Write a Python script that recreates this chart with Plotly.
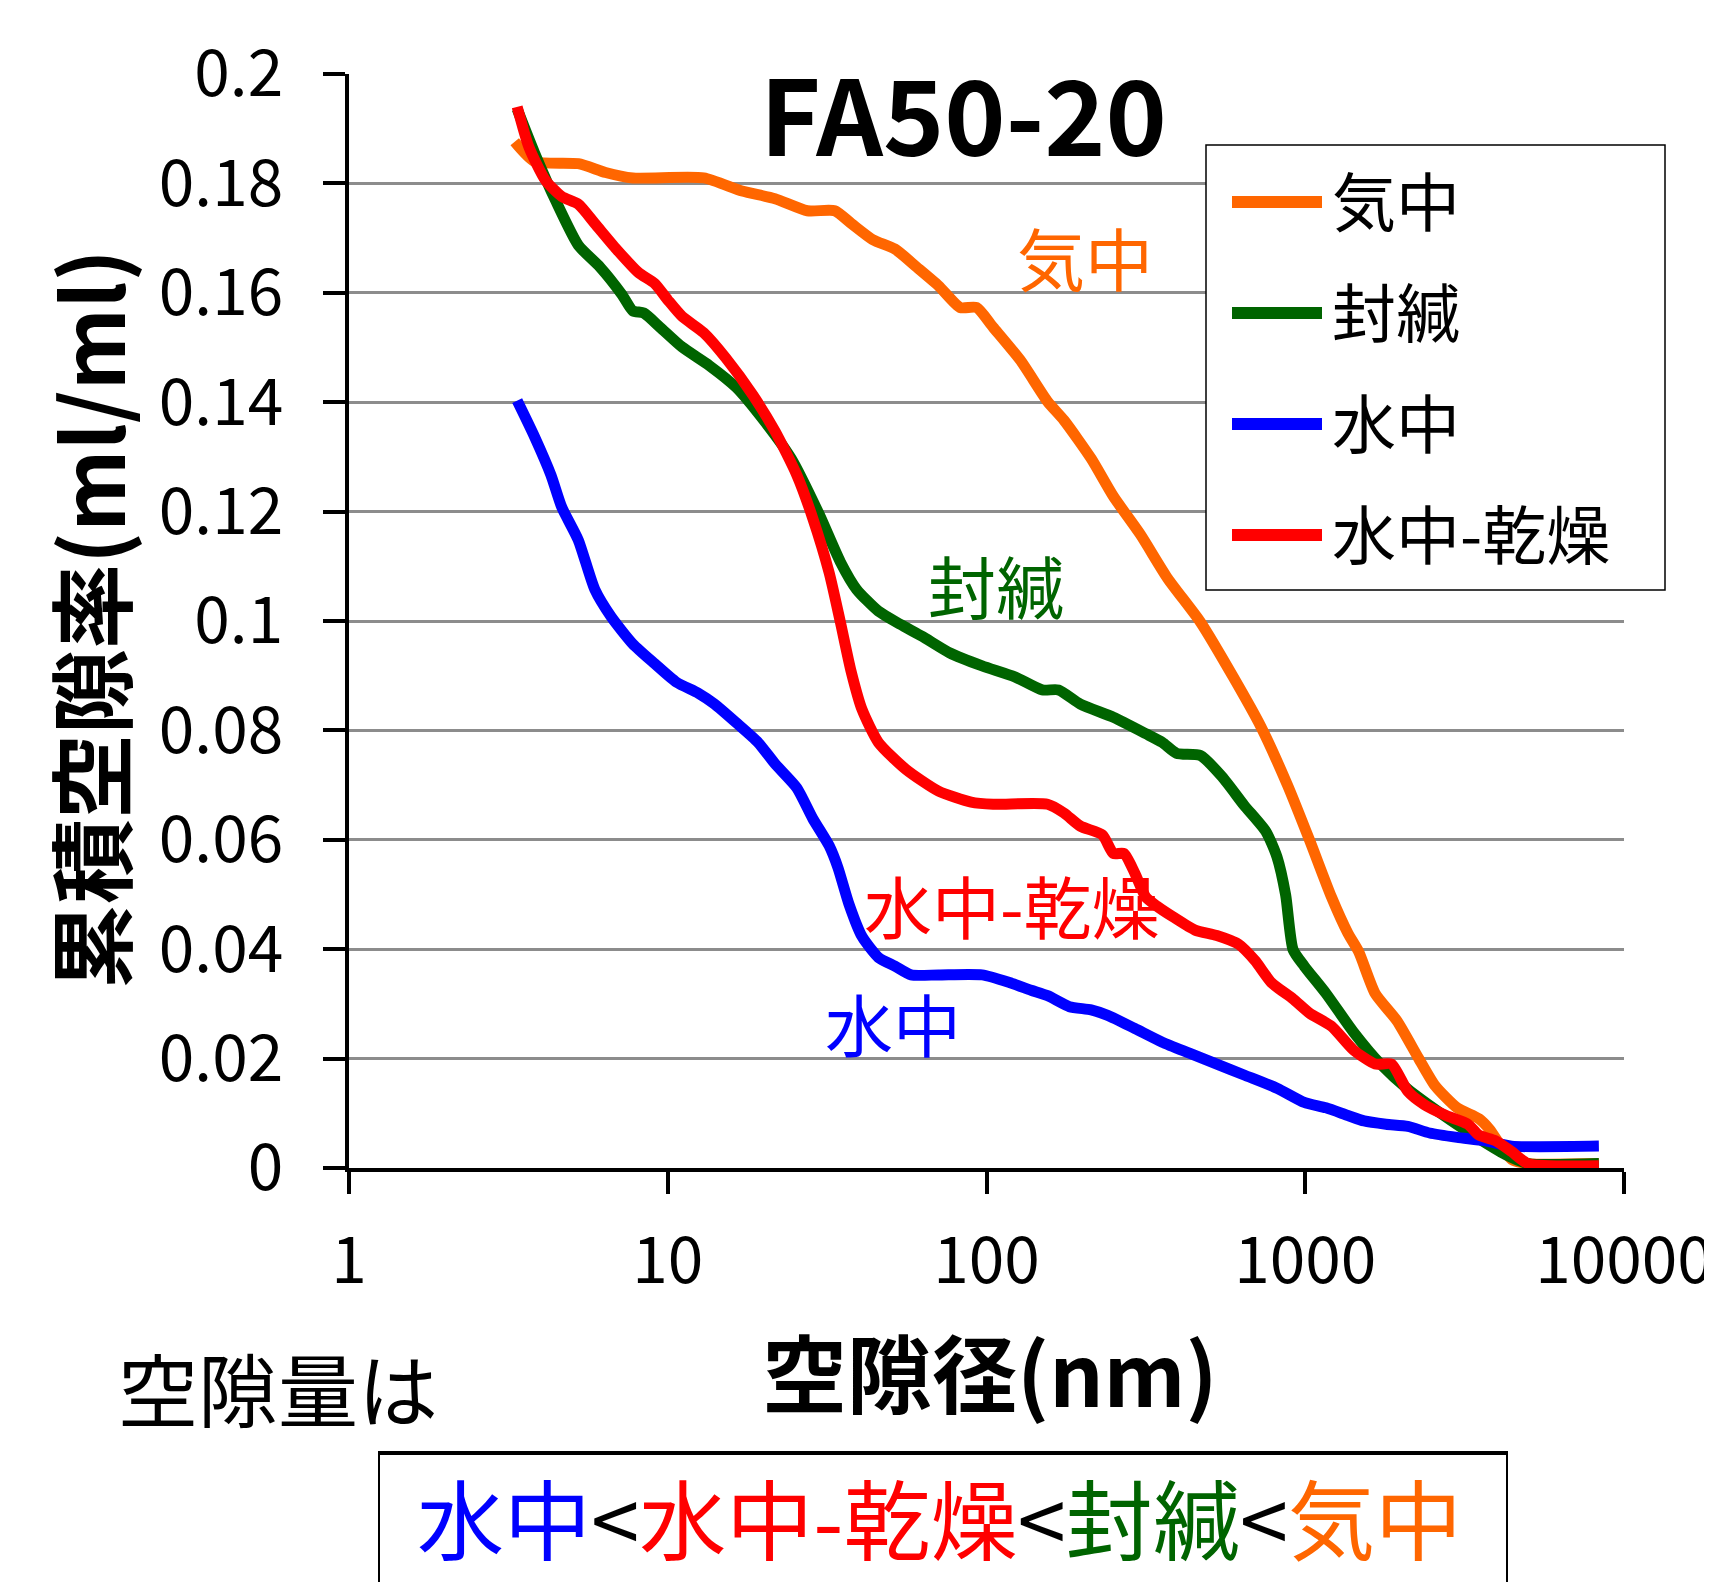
import plotly.graph_objects as go

# ---------------- data ----------------
series_names = ["気中", "封緘", "水中", "水中-乾燥"]
series_colors = ["#FF6600", "#006400", "#0000FF", "#FF0000"]

x_kichu = [3.31, 3.82, 5.24, 6.38, 7.77, 12.97, 17.1, 21.7, 27.4, 33.4, 37.6, 44.0, 51.6, 60.4,
           70.7, 82.7, 93.1, 104.9, 127.6, 155.5, 175, 213, 250, 304, 370, 469, 594, 724, 881,
           1032, 1209, 1361, 1472, 1657, 1940, 2271, 2557, 2994, 3507, 3794, 4105, 4439, 5000, 8340]
y_kichu = [0.1876, 0.184, 0.1836, 0.182, 0.181, 0.181, 0.1786, 0.1772, 0.175, 0.175, 0.1727, 0.1697,
           0.168, 0.1647, 0.1613, 0.1573, 0.1573, 0.1537, 0.1477, 0.1401, 0.1367, 0.1297, 0.1228,
           0.1158, 0.1078, 0.0998, 0.0898, 0.0808, 0.0699, 0.0599, 0.0495, 0.0429, 0.0395, 0.0319,
           0.0269, 0.020, 0.015, 0.011, 0.009, 0.007, 0.004, 0.0016, 0.0008, 0.0008]

x_fukan = [3.37, 3.82, 4.47, 5.24, 6.13, 7.18, 7.77, 8.41, 9.46, 11.08, 13.5, 16.4, 20.0, 24.4,
           29.7, 34.8, 39.1, 45.8, 53.6, 62.8, 76.5, 96.9, 122.7, 149.5, 168.3, 197, 250, 316,
           356, 395, 469, 549, 643, 753, 815, 868, 916, 993, 1162, 1415, 1722, 2099, 2660, 3367,
           4266, 5000, 8340]
y_fukan = [0.1936, 0.1856, 0.1766, 0.1687, 0.1647, 0.1597, 0.1567, 0.1563, 0.1537, 0.1501, 0.1467,
           0.1427, 0.1367, 0.1297, 0.1198, 0.1108, 0.1058, 0.1018, 0.0994, 0.0972, 0.0942, 0.0918,
           0.0898, 0.0874, 0.0874, 0.0848, 0.0824, 0.0794, 0.0778, 0.0758, 0.0754, 0.0715, 0.0663,
           0.0615, 0.0569, 0.0499, 0.0399, 0.0369, 0.0319, 0.0249, 0.019, 0.0144, 0.010, 0.006,
           0.0024, 0.0008, 0.0008]

x_suichu = [3.37, 3.82, 4.30, 4.65, 5.24, 5.90, 6.64, 7.77, 9.10, 10.65, 12.47, 14.03, 16.4, 19.2,
            21.7, 25.4, 28.5, 32.1, 34.2, 37.0, 40.7, 45.8, 51.6, 58.0, 70.7, 96.9, 118, 138,
            155.5, 182, 213, 240, 292, 356, 433, 528, 643, 815, 993, 1162, 1361, 1530, 1792,
            2099, 2456, 2994, 3646, 4439, 8340]
y_suichu = [0.1403, 0.1337, 0.1267, 0.1208, 0.1148, 0.1058, 0.1008, 0.0958, 0.0922, 0.0888, 0.0868,
            0.0848, 0.0814, 0.0778, 0.0739, 0.0695, 0.0639, 0.0589, 0.0549, 0.0483, 0.0423, 0.0385,
            0.0369, 0.0353, 0.0353, 0.0353, 0.0339, 0.0325, 0.0315, 0.0295, 0.0289, 0.0279, 0.0255,
            0.0230, 0.0210, 0.019, 0.017, 0.0146, 0.012, 0.011, 0.0096, 0.0086, 0.008, 0.0076,
            0.0064, 0.0056, 0.005, 0.004, 0.004]

x_kansou = [3.37, 3.67, 4.13, 4.65, 5.24, 5.90, 6.90, 8.09, 9.10, 10.0, 11.08, 12.97, 15.2, 18.5,
            21.7, 25.4, 28.5, 32.1, 34.8, 37.6, 40.7, 45.8, 55.8, 70.7, 89.5, 104.9, 155.5, 175,
            197, 231, 250, 270, 292, 316, 342, 385, 451, 528, 618, 696, 783, 916, 1032, 1209,
            1415, 1657, 1865, 2099, 2362, 2767, 3238, 3507, 3947, 4439, 5000, 8340]
y_kansou = [0.194, 0.1866, 0.1806, 0.1776, 0.1762, 0.1727, 0.168, 0.1637, 0.1617, 0.1587, 0.1557,
            0.1527, 0.1481, 0.1413, 0.1347, 0.1267, 0.1188, 0.1088, 0.0998, 0.0908, 0.0838, 0.0778,
            0.0729, 0.0689, 0.0669, 0.0665, 0.0665, 0.0649, 0.0625, 0.0609, 0.0575, 0.0575, 0.0539,
            0.0495, 0.0479, 0.0459, 0.0435, 0.0425, 0.0409, 0.0379, 0.0339, 0.0309, 0.0283, 0.0259,
            0.0216, 0.019, 0.019, 0.014, 0.0116, 0.0096, 0.008, 0.006, 0.005, 0.003, 0.0008, 0.0004]

series_x = [x_kichu, x_fukan, x_suichu, x_kansou]
series_y = [y_kichu, y_fukan, y_suichu, y_kansou]

x_tickvals = [1, 10, 100, 1000, 10000]
x_ticktext = ["1", "10", "100", "1000", "10000"]
y_tickvals = [0, 0.02, 0.04, 0.06, 0.08, 0.1, 0.12, 0.14, 0.16, 0.18, 0.2]
y_ticktext = ["0", "0.02", "0.04", "0.06", "0.08", "0.1", "0.12", "0.14", "0.16", "0.18", "0.2"]

title_text = "FA50-20"
x_title = "空隙径(nm)"
y_title = "累積空隙率(ml/ml)"
note_text = "空隙量は"
# ------------------------------------------------------------------------

PAGE_W, PAGE_H = 1712, 1582
OFF = 8  # default body margin of the html page
W, H = PAGE_W - OFF, PAGE_H - OFF
# plot-area edges in page pixels
L, R, T, B = 349, 1624, 74, 1168
FONT = "Noto Sans CJK JP"


def px(xp):
    return (xp - L) / (R - L)


def py(yp):
    return (B - yp) / (B - T)


fig = go.Figure()
for name, color, xs, ys in zip(series_names, series_colors, series_x, series_y):
    fig.add_trace(go.Scatter(x=xs, y=ys, mode="lines", name=name,
                             line=dict(color=color, width=11, shape="spline", smoothing=0.6),
                             showlegend=False))

annotations = []
shapes = []

# title
annotations.append(dict(text="<b>" + title_text + "</b>", x=px(963), y=py(110), xref="paper", yref="paper",
                        showarrow=False, xanchor="center", yanchor="middle",
                        font=dict(family=FONT, size=104, color="black")))
# axis titles
annotations.append(dict(text="<b>" + y_title + "</b>", x=px(87), y=py(619), xref="paper", yref="paper",
                        showarrow=False, textangle=-90, xanchor="center", yanchor="middle",
                        font=dict(family=FONT, size=85, color="black")))
annotations.append(dict(text="<b>" + x_title + "</b>", x=px(990), y=py(1369), xref="paper", yref="paper",
                        showarrow=False, xanchor="center", yanchor="middle",
                        font=dict(family=FONT, size=85, color="black")))
annotations.append(dict(text=note_text, x=px(278), y=py(1386), xref="paper", yref="paper",
                        showarrow=False, xanchor="center", yanchor="middle",
                        font=dict(family=FONT, size=80, color="black")))

# in-plot labels
label_pos = {"気中": (1085, 256), "封緘": (996, 584), "水中-乾燥": (1012, 904), "水中": (893, 1022)}
for name, color in zip(series_names, series_colors):
    xp, yp = label_pos[name]
    annotations.append(dict(text=name, x=px(xp), y=py(yp), xref="paper", yref="paper",
                            showarrow=False, xanchor="center", yanchor="middle",
                            font=dict(family=FONT, size=68, color=color)))

# legend (drawn manually)
leg_x0, leg_y0, leg_x1, leg_y1 = 1206, 145, 1665, 590
shapes.append(dict(type="rect", xref="paper", yref="paper", x0=px(leg_x0), x1=px(leg_x1),
                   y0=py(leg_y0), y1=py(leg_y1), line=dict(color="black", width=1.5),
                   fillcolor="white", layer="above"))
leg_rows = [202, 313, 424, 535]
for name, color, yr in zip(series_names, series_colors, leg_rows):
    shapes.append(dict(type="line", xref="paper", yref="paper", x0=px(1232), x1=px(1322),
                       y0=py(yr), y1=py(yr), line=dict(color=color, width=12), layer="above"))
    annotations.append(dict(text=name, x=px(1330), y=py(yr - 4), xref="paper", yref="paper",
                            showarrow=False, xanchor="left", yanchor="middle",
                            font=dict(family=FONT, size=64, color="black")))

# bottom comparison box
order = [2, 3, 1, 0]
parts = ["<span style='color:%s'>%s</span>" % (series_colors[i], series_names[i]) for i in order]
box_text = "<span style='color:black'>&lt;</span>".join(parts)
shapes.append(dict(type="rect", xref="paper", yref="paper", x0=px(379), x1=px(1507),
                   y0=py(1452), y1=py(1640), line=dict(color="black", width=2)))
shapes.append(dict(type="line", xref="paper", yref="paper", x0=px(379), x1=px(1507),
                   y0=py(1453), y1=py(1453), line=dict(color="black", width=4)))
annotations.append(dict(text=box_text, x=px(939), y=py(1516), xref="paper", yref="paper",
                        showarrow=False, xanchor="center", yanchor="middle",
                        font=dict(family=FONT, size=87, color="black")))

fig.update_layout(
    width=W, height=H, autosize=False,
    margin=dict(l=L - OFF, r=PAGE_W - R, t=T - OFF, b=PAGE_H - B, pad=0),
    paper_bgcolor="white", plot_bgcolor="white",
    font=dict(family=FONT, color="black"),
    showlegend=False,
    annotations=annotations, shapes=shapes,
    xaxis=dict(type="log", range=[0, 4], tickvals=x_tickvals, ticktext=x_ticktext,
               ticks="outside", ticklen=22, tickwidth=3.5, tickcolor="black",
               showline=True, linewidth=4, linecolor="black", showgrid=False, zeroline=False,
               ticklabeloverflow="allow", automargin=False,
               tickfont=dict(family=FONT, size=64, color="black"), ticklabelstandoff=12),
    yaxis=dict(range=[0, 0.2], tickvals=y_tickvals, ticktext=y_ticktext,
               ticks="outside", ticklen=22, tickwidth=3.5, tickcolor="black",
               showline=True, linewidth=4, linecolor="black", automargin=False,
               showgrid=True, gridcolor="#8C8C8C", gridwidth=2.5, zeroline=False,
               tickfont=dict(family=FONT, size=64, color="black"), ticklabelstandoff=27),
)

fig.write_html("out.html")
